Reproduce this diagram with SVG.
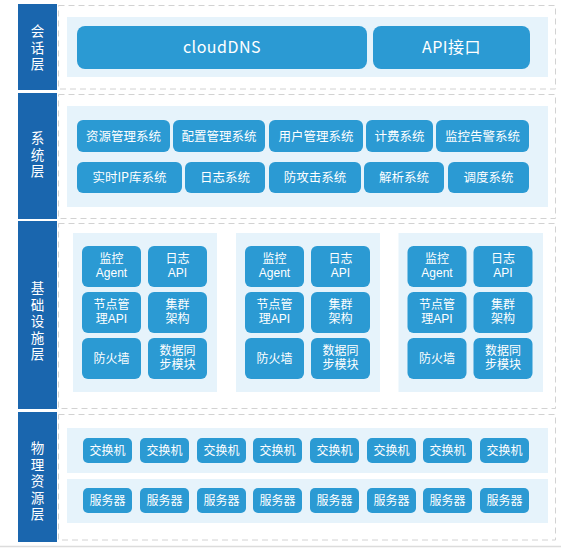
<svg xmlns="http://www.w3.org/2000/svg" width="561" height="548" viewBox="0 0 561 548">
<style>
.bar{fill:#1a66ae}
.frame{fill:none;stroke:#d2d2d2;stroke-width:1;stroke-dasharray:6 4}
.panel{fill:#e6f3fb}
.btn{fill:#2b9ad3}
.lbl{fill:#ffffff;font-family:"Noto Sans CJK SC","Liberation Sans",sans-serif;text-anchor:middle}
.ml{font-family:"Liberation Sans","Noto Sans CJK SC",sans-serif}
.bt{font-size:16px;letter-spacing:0.5px}
.st{font-size:12.5px}
.it{font-size:12px}
.pt{font-size:12px}
.lt{font-size:13.5px}
</style>
<rect width="561" height="548" fill="#ffffff"/>
<line x1="0" y1="546.5" x2="561" y2="546.5" stroke="#dcdcdc" stroke-width="1.5"/>

<g id="layer-session">
<rect class="bar" x="18" y="4" width="39" height="86"/>
<text class="lbl ml lt"><tspan x="37.5" y="36">会</tspan><tspan x="37.5" y="52.5">话</tspan><tspan x="37.5" y="69">层</tspan></text>
<rect class="frame" x="58.5" y="5.5" width="497" height="83.5"/>
<rect class="panel" x="67" y="17" width="481" height="60"/>
<g id="cloudDNS"><rect class="btn" x="77" y="26" width="290" height="43" rx="8"/><text class="lbl bt" x="222" y="53">cloudDNS</text></g>
<g id="api"><rect class="btn" x="373" y="26" width="157" height="43" rx="8"/><text class="lbl bt" x="451.5" y="53">API接口</text></g>
</g>

<g id="layer-system">
<rect class="bar" x="18" y="93" width="39" height="126"/>
<text class="lbl ml lt"><tspan x="37.5" y="143">系</tspan><tspan x="37.5" y="159.5">统</tspan><tspan x="37.5" y="176">层</tspan></text>
<rect class="frame" x="58.5" y="94.5" width="497" height="124"/>
<rect class="panel" x="67" y="106" width="481" height="101"/>
<g id="s1"><rect class="btn" x="77" y="120" width="93" height="32" rx="6"/><text class="lbl st" x="123.5" y="140.5">资源管理系统</text></g>
<g id="s2"><rect class="btn" x="173" y="120" width="92" height="32" rx="6"/><text class="lbl st" x="219" y="140.5">配置管理系统</text></g>
<g id="s3"><rect class="btn" x="269" y="120" width="94" height="32" rx="6"/><text class="lbl st" x="316" y="140.5">用户管理系统</text></g>
<g id="s4"><rect class="btn" x="366" y="120" width="67" height="32" rx="6"/><text class="lbl st" x="399.5" y="140.5">计费系统</text></g>
<g id="s5"><rect class="btn" x="436" y="120" width="93" height="32" rx="6"/><text class="lbl st" x="482.5" y="140.5">监控告警系统</text></g>
<g id="s6"><rect class="btn" x="77" y="162" width="105" height="31" rx="6"/><text class="lbl st" x="129.5" y="182">实时IP库系统</text></g>
<g id="s7"><rect class="btn" x="185" y="162" width="80" height="31" rx="6"/><text class="lbl st" x="225" y="182">日志系统</text></g>
<g id="s8"><rect class="btn" x="269" y="162" width="92" height="31" rx="6"/><text class="lbl st" x="315" y="182">防攻击系统</text></g>
<g id="s9"><rect class="btn" x="364" y="162" width="80" height="31" rx="6"/><text class="lbl st" x="404" y="182">解析系统</text></g>
<g id="s10"><rect class="btn" x="448" y="162" width="81" height="31" rx="6"/><text class="lbl st" x="488.5" y="182">调度系统</text></g>
</g>

<g id="layer-infra">
<rect class="bar" x="18" y="221" width="39" height="188"/>
<text class="lbl ml lt"><tspan x="37.5" y="293">基</tspan><tspan x="37.5" y="309.5">础</tspan><tspan x="37.5" y="326">设</tspan><tspan x="37.5" y="342.5">施</tspan><tspan x="37.5" y="359">层</tspan></text>
<rect class="frame" x="58.5" y="223.5" width="497" height="185"/>
<g id="cluster1" transform="translate(73,0)">
<rect class="panel" x="0" y="233" width="144" height="159"/>
<rect class="btn" x="9" y="246" width="59" height="41" rx="6"/><text class="lbl ml it"><tspan x="38.5" y="263">监控</tspan><tspan x="38.5" y="277">Agent</tspan></text>
<rect class="btn" x="75" y="246" width="59" height="41" rx="6"/><text class="lbl ml it"><tspan x="104.5" y="263">日志</tspan><tspan x="104.5" y="277">API</tspan></text>
<rect class="btn" x="9" y="292" width="59" height="41" rx="6"/><text class="lbl ml it"><tspan x="38.5" y="309">节点管</tspan><tspan x="38.5" y="323">理API</tspan></text>
<rect class="btn" x="75" y="292" width="59" height="41" rx="6"/><text class="lbl ml it"><tspan x="104.5" y="309">集群</tspan><tspan x="104.5" y="323">架构</tspan></text>
<rect class="btn" x="9" y="338" width="59" height="41" rx="6"/><text class="lbl it" x="38.5" y="363">防火墙</text>
<rect class="btn" x="75" y="338" width="59" height="41" rx="6"/><text class="lbl ml it"><tspan x="104.5" y="355">数据同</tspan><tspan x="104.5" y="369">步模块</tspan></text>
</g>
<g id="cluster2" transform="translate(236,0)">
<rect class="panel" x="0" y="233" width="144" height="159"/>
<rect class="btn" x="9" y="246" width="59" height="41" rx="6"/><text class="lbl ml it"><tspan x="38.5" y="263">监控</tspan><tspan x="38.5" y="277">Agent</tspan></text>
<rect class="btn" x="75" y="246" width="59" height="41" rx="6"/><text class="lbl ml it"><tspan x="104.5" y="263">日志</tspan><tspan x="104.5" y="277">API</tspan></text>
<rect class="btn" x="9" y="292" width="59" height="41" rx="6"/><text class="lbl ml it"><tspan x="38.5" y="309">节点管</tspan><tspan x="38.5" y="323">理API</tspan></text>
<rect class="btn" x="75" y="292" width="59" height="41" rx="6"/><text class="lbl ml it"><tspan x="104.5" y="309">集群</tspan><tspan x="104.5" y="323">架构</tspan></text>
<rect class="btn" x="9" y="338" width="59" height="41" rx="6"/><text class="lbl it" x="38.5" y="363">防火墙</text>
<rect class="btn" x="75" y="338" width="59" height="41" rx="6"/><text class="lbl ml it"><tspan x="104.5" y="355">数据同</tspan><tspan x="104.5" y="369">步模块</tspan></text>
</g>
<g id="cluster3" transform="translate(398.5,0)">
<rect class="panel" x="0" y="233" width="144.5" height="159"/>
<rect class="btn" x="9" y="246" width="59" height="41" rx="6"/><text class="lbl ml it"><tspan x="38.5" y="263">监控</tspan><tspan x="38.5" y="277">Agent</tspan></text>
<rect class="btn" x="75" y="246" width="59" height="41" rx="6"/><text class="lbl ml it"><tspan x="104.5" y="263">日志</tspan><tspan x="104.5" y="277">API</tspan></text>
<rect class="btn" x="9" y="292" width="59" height="41" rx="6"/><text class="lbl ml it"><tspan x="38.5" y="309">节点管</tspan><tspan x="38.5" y="323">理API</tspan></text>
<rect class="btn" x="75" y="292" width="59" height="41" rx="6"/><text class="lbl ml it"><tspan x="104.5" y="309">集群</tspan><tspan x="104.5" y="323">架构</tspan></text>
<rect class="btn" x="9" y="338" width="59" height="41" rx="6"/><text class="lbl it" x="38.5" y="363">防火墙</text>
<rect class="btn" x="75" y="338" width="59" height="41" rx="6"/><text class="lbl ml it"><tspan x="104.5" y="355">数据同</tspan><tspan x="104.5" y="369">步模块</tspan></text>
</g>
</g>

<g id="layer-physical">
<rect class="bar" x="18" y="412" width="39" height="130"/>
<text class="lbl ml lt"><tspan x="37.5" y="453">物</tspan><tspan x="37.5" y="469.5">理</tspan><tspan x="37.5" y="486">资</tspan><tspan x="37.5" y="502.5">源</tspan><tspan x="37.5" y="519">层</tspan></text>
<rect class="frame" x="58.5" y="414.5" width="497" height="125.5"/>
<rect class="panel" x="67" y="428" width="481" height="45"/>
<rect class="panel" x="67" y="479" width="481" height="44"/>
<g id="switches">
<rect class="btn" x="83" y="438" width="49" height="25" rx="5"/><text class="lbl pt" x="107.5" y="455">交换机</text>
<rect class="btn" x="140" y="438" width="49" height="25" rx="5"/><text class="lbl pt" x="164.5" y="455">交换机</text>
<rect class="btn" x="197" y="438" width="49" height="25" rx="5"/><text class="lbl pt" x="221.5" y="455">交换机</text>
<rect class="btn" x="253" y="438" width="49" height="25" rx="5"/><text class="lbl pt" x="277.5" y="455">交换机</text>
<rect class="btn" x="310" y="438" width="49" height="25" rx="5"/><text class="lbl pt" x="334.5" y="455">交换机</text>
<rect class="btn" x="367" y="438" width="49" height="25" rx="5"/><text class="lbl pt" x="391.5" y="455">交换机</text>
<rect class="btn" x="423" y="438" width="49" height="25" rx="5"/><text class="lbl pt" x="447.5" y="455">交换机</text>
<rect class="btn" x="480" y="438" width="49" height="25" rx="5"/><text class="lbl pt" x="504.5" y="455">交换机</text>
</g>
<g id="servers">
<rect class="btn" x="83" y="488" width="49" height="25" rx="5"/><text class="lbl pt" x="107.5" y="505">服务器</text>
<rect class="btn" x="140" y="488" width="49" height="25" rx="5"/><text class="lbl pt" x="164.5" y="505">服务器</text>
<rect class="btn" x="197" y="488" width="49" height="25" rx="5"/><text class="lbl pt" x="221.5" y="505">服务器</text>
<rect class="btn" x="253" y="488" width="49" height="25" rx="5"/><text class="lbl pt" x="277.5" y="505">服务器</text>
<rect class="btn" x="310" y="488" width="49" height="25" rx="5"/><text class="lbl pt" x="334.5" y="505">服务器</text>
<rect class="btn" x="367" y="488" width="49" height="25" rx="5"/><text class="lbl pt" x="391.5" y="505">服务器</text>
<rect class="btn" x="423" y="488" width="49" height="25" rx="5"/><text class="lbl pt" x="447.5" y="505">服务器</text>
<rect class="btn" x="480" y="488" width="49" height="25" rx="5"/><text class="lbl pt" x="504.5" y="505">服务器</text>
</g>
</g>
</svg>
